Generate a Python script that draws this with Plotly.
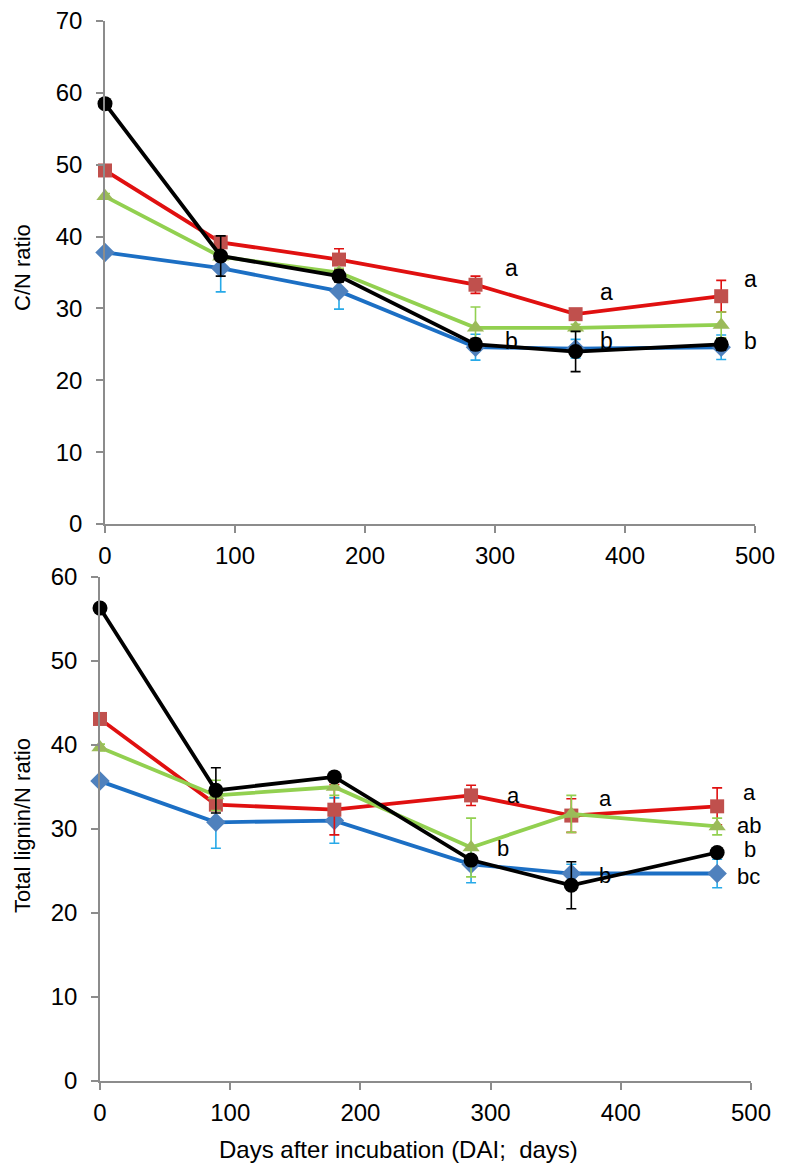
import plotly.graph_objects as go

# ---------------- data ----------------
days = [0, 89, 180, 285, 362, 474]

# C/N ratio (top panel)
cn_blue = [37.8, 35.6, 32.4, 24.6, 24.4, 24.6]
cn_blue_err = [0.3, 3.3, 2.5, 1.8, 1.3, 1.7]
cn_red = [49.2, 39.2, 36.8, 33.3, 29.2, 31.7]
cn_red_err = [0.4, 0.5, 1.5, 1.2, 0.5, 2.2]
cn_green = [45.6, 37.2, 35.0, 27.3, 27.3, 27.7]
cn_green_err = [0.4, 0.5, 0.6, 2.9, 0.5, 1.8]
cn_black = [58.5, 37.3, 34.5, 25.0, 24.0, 25.0]
cn_black_err = [0.3, 2.8, 0.8, 0.8, 2.8, 0.8]

# Total lignin/N ratio (bottom panel)
ln_blue = [35.7, 30.8, 31.0, 25.8, 24.7, 24.7]
ln_blue_err = [0.3, 3.1, 2.7, 2.2, 1.1, 1.7]
ln_red = [43.1, 32.9, 32.3, 34.0, 31.6, 32.7]
ln_red_err = [0.4, 0.6, 3.0, 1.2, 2.0, 2.2]
ln_green = [39.7, 34.0, 35.0, 27.8, 31.8, 30.3]
ln_green_err = [0.4, 1.8, 1.0, 3.5, 2.2, 1.0]
ln_black = [56.3, 34.6, 36.2, 26.3, 23.3, 27.2]
ln_black_err = [0.3, 2.7, 0.5, 0.5, 2.8, 0.5]

# significance letters
top_letters = ["a", "a", "a", "b", "b", "b"]
top_letter_x = [306, 379, 490, 306, 379, 490]
top_letter_y = [35.6, 32.3, 34.1, 25.4, 25.4, 25.4]
bot_letters = ["a", "a", "a", "ab", "b", "b", "b", "bc"]
bot_letter_x = [311, 382, 492, 488, 303, 382, 493, 488]
bot_letter_y = [34.0, 33.6, 34.3, 30.4, 27.7, 24.5, 27.6, 24.3]

y_title_top = "C/N ratio"
y_title_bot = "Total lignin/N ratio"
x_title = "Days after incubation (DAI;  days)"

# ---------------- styles ----------------
FONT = "Liberation Sans, Arial, sans-serif"
series_style = [
    # line color, marker color, marker symbol, marker size, error color
    ("#1c6fc4", "#4f81bd", "diamond", 15, "#27a9e8"),
    ("#e01010", "#c0504d", "square", 14, "#e01010"),
    ("#92d050", "#9bbb59", "triangle-up", 15, "#92d050"),
    ("#000000", "#000000", "circle", 15, "#000000"),
]

fig = go.Figure()

top_sets = [(cn_blue, cn_blue_err), (cn_red, cn_red_err), (cn_green, cn_green_err), (cn_black, cn_black_err)]
bot_sets = [(ln_blue, ln_blue_err), (ln_red, ln_red_err), (ln_green, ln_green_err), (ln_black, ln_black_err)]

for sets, xa, ya in [(top_sets, "x", "y"), (bot_sets, "x2", "y2")]:
    for (vals, errs), (lc, mc, sym, ms, ec) in zip(sets, series_style):
        fig.add_trace(go.Scatter(
            x=days, y=vals, xaxis=xa, yaxis=ya,
            mode="lines+markers",
            line=dict(color=lc, width=3.8),
            marker=dict(color=mc, symbol=sym, size=ms, line=dict(width=0)),
            error_y=dict(type="data", array=errs, visible=True, color=ec, thickness=1.6, width=5),
            cliponaxis=False, showlegend=False,
        ))

for t, xv, yv in zip(top_letters, top_letter_x, top_letter_y):
    fig.add_annotation(x=xv, y=yv, xref="x", yref="y", text=t, showarrow=False,
                       xanchor="left", yanchor="middle", font=dict(family=FONT, size=23, color="#000"))
for t, xv, yv in zip(bot_letters, bot_letter_x, bot_letter_y):
    fig.add_annotation(x=xv, y=yv, xref="x2", yref="y2", text=t, showarrow=False,
                       xanchor="left", yanchor="middle", font=dict(family=FONT, size=22, color="#000"))

W, H = 790, 1171
OFF = 8  # page body margin offset compensation


def px_x(p):
    return (p - OFF) / W


def px_y(p):
    return 1 - (p - OFF) / H


# axis titles as paper annotations
fig.add_annotation(x=px_x(22), y=px_y(268), xref="paper", yref="paper", text=y_title_top,
                   textangle=-90, showarrow=False, xanchor="center", yanchor="middle",
                   font=dict(family=FONT, size=22, color="#000"))
fig.add_annotation(x=px_x(22), y=px_y(826), xref="paper", yref="paper", text=y_title_bot,
                   textangle=-90, showarrow=False, xanchor="center", yanchor="middle",
                   font=dict(family=FONT, size=22, color="#000"))
fig.add_annotation(x=px_x(398), y=px_y(1149), xref="paper", yref="paper", text=x_title,
                   showarrow=False, xanchor="center", yanchor="middle",
                   font=dict(family=FONT, size=24, color="#000"))

axis_common = dict(
    showgrid=False, zeroline=False, showline=True, linecolor="#8c8c8c", linewidth=1.5,
    ticks="outside", ticklen=7, tickwidth=1.5, tickcolor="#8c8c8c", automargin=False,
    ticklabeloverflow="allow",
    tickfont=dict(family=FONT, size=24, color="#000"),
)

fig.update_layout(
    width=W, height=H,
    margin=dict(l=0, r=0, t=0, b=0, pad=0),
    paper_bgcolor="white", plot_bgcolor="white",
    font=dict(family=FONT),
    xaxis=dict(domain=[px_x(105), px_x(755)], range=[0, 500], dtick=100, anchor="y",
               ticklabelstandoff=2, **axis_common),
    yaxis=dict(domain=[px_y(524), px_y(21)], range=[0, 70], dtick=10, anchor="x",
               ticklabelstandoff=9, **axis_common),
    xaxis2=dict(domain=[px_x(100), px_x(751)], range=[0, 500], dtick=100, anchor="y2",
                ticklabelstandoff=2, **axis_common),
    yaxis2=dict(domain=[px_y(1081), px_y(577)], range=[0, 60], dtick=10, anchor="x2",
                ticklabelstandoff=9, **axis_common),
)

fig.write_html("out.html")
